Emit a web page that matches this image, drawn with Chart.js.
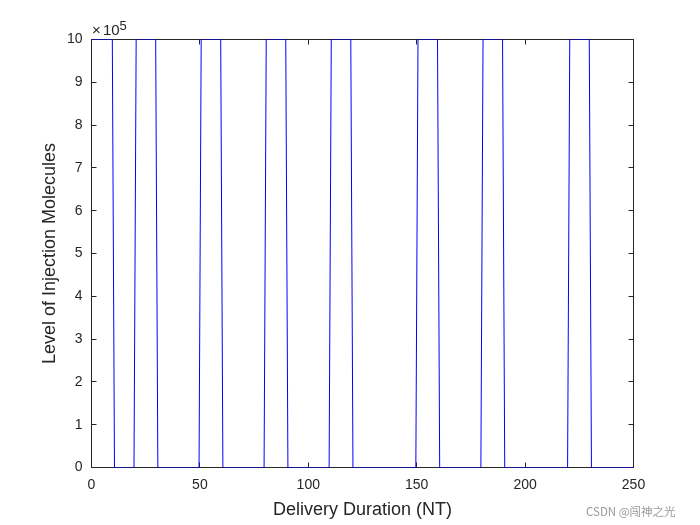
<!DOCTYPE html>
<html>
<head>
<meta charset="utf-8">
<script src="https://cdn.jsdelivr.net/npm/chart.js@4.4.0/dist/chart.umd.min.js"></script>
<style>
body { margin: 0; background: #fff; }
#wrap { position: relative; width: 700px; height: 525px; }
#mark { position: absolute; left: 586px; top: 503px; font: 11.5px "Noto Sans CJK SC", sans-serif; color: #9a9a9a; white-space: nowrap; }
</style>
</head>
<body>
<div id="wrap">
<canvas id="chart" width="700" height="525"></canvas>
<div id="mark">CSDN @闯神之光</div>
</div>
<script>
// corner points of the pulse train
const timeNT = [0, 9.6, 10.6, 19.6, 20.6, 29.6, 30.6, 49.6, 50.6, 59.6, 60.6, 79.6, 80.6,
    89.6, 90.6, 109.6, 110.6, 119.6, 120.6, 149.6, 150.6, 159.6, 160.6, 179.6, 180.6,
    189.6, 190.6, 219.6, 220.6, 229.6, 230.6, 250];
const molecules = [1e6, 1e6, 0, 0, 1e6, 1e6, 0, 0, 1e6, 1e6, 0, 0, 1e6,
    1e6, 0, 0, 1e6, 1e6, 0, 0, 1e6, 1e6, 0, 0, 1e6,
    1e6, 0, 0, 1e6, 1e6, 0, 0];
const xTicks = [0, 50, 100, 150, 200, 250];
const yTickLabels = ['0', '1', '2', '3', '4', '5', '6', '7', '8', '9', '10'];

const axisColour = '#262626';
const fontFamily = '"Liberation Sans", Arial, Helvetica, sans-serif';

function makePoints(xs, ys) {
    let pts = [];
    for (let i = 0; i < xs.length; i++) {
        pts.push({x: xs[i], y: ys[i]});
    }
    return pts;
}

function crisp(v) {
    return Math.floor(v) + 0.5;
}

// box round the axes with inward ticks on all four sides, like matlab
const boxPlugin = {
    id: 'matlabBox',
    beforeDatasetsDraw(chart) {
        const ctx = chart.ctx;
        const a = chart.chartArea;
        const sx = chart.scales.x;
        const sy = chart.scales.y;
        const tl = 5;
        ctx.save();
        ctx.strokeStyle = axisColour;
        ctx.lineWidth = 1;
        ctx.strokeRect(a.left, a.top, a.right - a.left, a.bottom - a.top);
        ctx.beginPath();
        sx.ticks.forEach(t => {
            const px = crisp(sx.getPixelForValue(t.value));
            ctx.moveTo(px, a.bottom); ctx.lineTo(px, a.bottom - tl);
            ctx.moveTo(px, a.top); ctx.lineTo(px, a.top + tl);
        });
        sy.ticks.forEach(t => {
            const py = crisp(sy.getPixelForValue(t.value));
            ctx.moveTo(a.left, py); ctx.lineTo(a.left + tl, py);
            ctx.moveTo(a.right, py); ctx.lineTo(a.right - tl, py);
        });
        ctx.stroke();
        ctx.restore();
    },
    afterDraw(chart) {
        // the x10^5 exponent over the y axis
        const ctx = chart.ctx;
        const a = chart.chartArea;
        ctx.save();
        ctx.fillStyle = axisColour;
        ctx.textBaseline = 'alphabetic';
        ctx.font = '15px ' + fontFamily;
        ctx.fillText('\u00d7', a.left + 0.5, a.top - 4.5);
        ctx.fillText('10', a.left + 11.5, a.top - 4.5);
        ctx.font = '13px ' + fontFamily;
        ctx.fillText('5', a.left + 28, a.top - 9.5);
        ctx.restore();
    }
};

new Chart(document.getElementById('chart').getContext('2d'), {
    type: 'scatter',
    data: {
        datasets: [{
            data: makePoints(timeNT, molecules),
            showLine: true,
            borderColor: '#0000ff',
            borderWidth: 1,
            pointRadius: 0,
            fill: false
        }]
    },
    options: {
        responsive: false,
        animation: false,
        layout: {padding: {left: 0, right: 66.5, top: 39.5, bottom: 0}},
        plugins: {legend: {display: false}, tooltip: {enabled: false}},
        scales: {
            x: {
                type: 'linear',
                min: 0,
                max: 250,
                afterFit(scale) { scale.height = 57.5; },
                afterBuildTicks(scale) { scale.ticks = xTicks.map(v => ({value: v})); },
                grid: {display: false, drawTicks: false, tickLength: 0},
                border: {display: false},
                ticks: {
                    padding: 9.5,
                    color: axisColour,
                    font: {family: fontFamily, size: 14},
                    maxRotation: 0,
                    autoSkip: false
                },
                title: {
                    display: true,
                    text: 'Delivery Duration (NT)',
                    color: axisColour,
                    font: {family: fontFamily, size: 18},
                    padding: {top: 0, bottom: 4}
                }
            },
            y: {
                type: 'linear',
                min: 0,
                max: 1e6,
                afterFit(scale) { scale.width = 91.5; },
                afterBuildTicks(scale) { scale.ticks = yTickLabels.map((s, i) => ({value: i * 1e5})); },
                grid: {display: false, drawTicks: false, tickLength: 0},
                border: {display: false},
                ticks: {
                    padding: 9,
                    color: axisColour,
                    font: {family: fontFamily, size: 14},
                    autoSkip: false,
                    callback: (v, i) => yTickLabels[i]
                },
                title: {
                    display: true,
                    text: 'Level of Injection Molecules',
                    color: axisColour,
                    font: {family: fontFamily, size: 18},
                    padding: {top: 39, bottom: 0}
                }
            }
        }
    },
    plugins: [boxPlugin]
});
</script>
</body>
</html>
